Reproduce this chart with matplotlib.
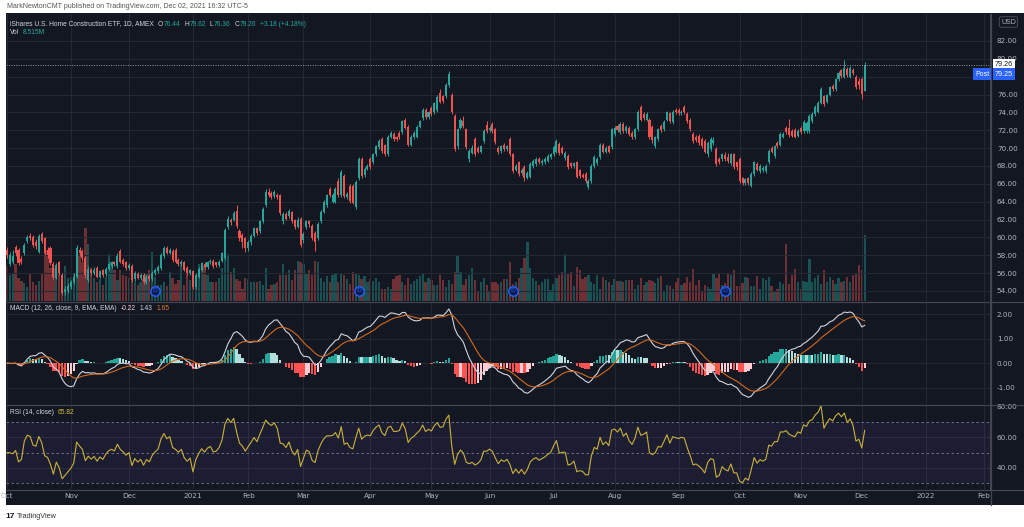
import matplotlib
matplotlib.use("Agg")
import matplotlib.pyplot as plt
import matplotlib.transforms as mtransforms
from matplotlib.patches import Rectangle
from matplotlib.lines import Line2D
import numpy as np
import pandas as pd

# ---- daily bars (ITB, Oct 2020 - Dec 2 2021) ----
opens = [
    58.6, 57.0, 57.2, 58.9, 58.6, 57.6, 58.3, 59.6, 60.2, 60.0, 59.5, 58.4, 60.4, 59.9, 58.6, 58.8, 57.0, 55.5, 57.2, 55.8, 53.9, 54.0,  # oct
    54.5, 55.0, 55.6, 58.6, 58.5, 57.7, 55.2, 56.4, 56.0, 56.6, 55.6, 56.3, 55.9, 56.5, 56.8, 57.2, 56.8, 58.5, 57.5, 57.2,  # nov
    56.6, 56.8, 55.3, 55.9, 55.4, 55.8, 55.0, 55.7, 55.3, 56.0, 56.2, 56.6, 57.9, 58.8, 58.3, 58.5, 58.6, 57.5, 57.0, 57.2, 56.6, 56.0,  # dec
    56.2, 54.5, 55.6, 56.4, 57.0, 56.7, 57.2, 57.4, 57.2, 56.9, 57.4, 57.7, 61.2, 62.0, 61.9, 63.0, 60.7, 60.3, 59.9,  # jan
    58.8, 59.5, 60.2, 61.0, 60.7, 61.8, 63.6, 65.1, 65.0, 64.6, 64.8, 64.7, 61.8, 62.6, 62.4, 62.8, 61.9, 61.2, 62.1,  # feb
    59.7, 61.2, 61.8, 61.3, 60.5, 59.9, 61.8, 62.9, 63.6, 65.4, 64.0, 64.0, 66.3, 64.7, 66.9, 64.5, 65.8, 65.8, 63.4, 66.6, 68.8, 67.0, 67.7,  # mar
    68.8, 68.4, 69.3, 70.1, 71.0, 70.3, 69.3, 71.3, 71.6, 71.2, 71.7, 71.8, 73.2, 72.4, 70.4, 71.2, 71.3, 72.4, 73.4, 74.3, 73.5,  # apr
    74.5, 74.0, 74.3, 76.2, 75.8, 75.8, 77.1, 76.0, 73.6, 70.2, 72.3, 73.0, 72.1, 68.8, 69.5, 71.0, 70.0, 69.6, 70.8, 72.6,  # may
    72.0, 72.7, 72.1, 70.0, 69.7, 70.4, 69.9, 71.0, 69.3, 67.6, 68.4, 67.2, 67.9, 66.7, 66.8, 68.0, 68.2, 68.8, 68.3, 68.4, 68.6, 69.0,  # jun
    69.3, 69.6, 70.5, 70.0, 68.9, 69.1, 68.3, 68.0, 68.4, 67.5, 67.0, 67.1, 65.7, 66.3, 68.0, 68.3, 69.0, 70.4, 69.6, 70.2, 70.1,  # jul
    71.6, 72.5, 71.8, 72.7, 71.9, 72.3, 71.7, 71.2, 72.1, 74.6, 73.8, 73.2, 73.2, 72.4, 70.2, 71.0, 72.5, 72.1, 73.2, 73.9, 72.9, 74.3,  # aug
    74.3, 73.9, 74.6, 73.8, 73.2, 71.6, 71.3, 71.4, 71.0, 70.8, 69.3, 69.9, 70.6, 69.9, 68.8, 68.8, 69.2, 69.0, 68.3, 69.3, 68.4,  # sep
    68.8, 66.6, 66.1, 66.6, 65.8, 67.1, 68.2, 67.4, 67.5, 67.4, 68.4, 70.0, 69.1, 70.6, 70.4, 71.3, 72.3, 72.2, 71.9, 72.0, 71.4,  # oct
    72.3, 71.9, 71.9, 71.9, 73.0, 73.8, 74.1, 75.1, 75.8, 75.2, 76.0, 77.0, 76.6, 77.7, 78.7, 78.0, 78.9, 78.0, 78.8, 78.0, 77.5,  # nov
    77.7, 76.44,  # dec
]
closes = [
    58.0, 58.0, 57.9, 58.2, 57.1, 57.3, 59.2, 60.0, 59.9, 59.1, 59.0, 60.2, 59.6, 58.2, 58.0, 57.1, 55.6, 56.9, 56.0, 53.8, 54.2, 54.6,
    55.0, 55.6, 58.8, 58.2, 57.7, 55.8, 56.5, 56.0, 56.4, 55.6, 56.2, 55.8, 56.5, 57.0, 57.2, 57.0, 57.9, 57.3, 57.0, 56.6,
    56.9, 55.2, 56.0, 55.5, 55.8, 55.0, 55.6, 55.3, 56.0, 56.4, 56.7, 58.0, 58.8, 58.3, 58.6, 57.5, 57.3, 57.0, 57.3, 56.4, 56.0, 56.3,
    54.5, 55.8, 56.5, 57.1, 56.7, 57.2, 57.4, 56.8, 56.9, 57.3, 58.2, 60.8, 62.1, 61.7, 62.7, 61.3, 59.9, 59.5, 58.8,
    59.5, 60.2, 61.0, 60.5, 61.8, 63.2, 65.1, 64.7, 64.5, 65.1, 64.5, 62.7, 62.6, 62.1, 63.0, 61.8, 61.2, 62.0, 59.1,
    60.4, 61.8, 61.5, 59.9, 59.5, 61.5, 62.9, 64.0, 64.7, 64.7, 64.8, 65.4, 64.7, 67.3, 64.6, 64.9, 64.1, 63.9, 66.2, 68.8, 66.9, 67.7, 68.0,
    67.9, 69.3, 70.2, 70.8, 69.7, 69.3, 71.3, 71.7, 71.0, 71.0, 71.2, 73.0, 72.3, 70.4, 71.3, 71.7, 72.4, 73.0, 74.3, 73.5, 74.0,
    73.8, 75.0, 75.7, 75.2, 75.3, 77.1, 78.3, 74.0, 69.9, 72.1, 73.2, 72.5, 70.1, 69.7, 70.0, 69.3, 69.6, 70.2, 71.9, 71.9,
    72.3, 71.9, 70.7, 69.6, 70.2, 69.9, 70.2, 69.3, 67.4, 68.0, 67.1, 67.6, 66.6, 67.2, 68.2, 68.6, 68.8, 68.4, 68.6, 68.8, 69.1, 69.3,
    70.1, 70.8, 69.4, 69.5, 69.5, 67.9, 68.0, 68.3, 66.8, 66.9, 66.8, 66.3, 66.3, 68.0, 69.0, 68.8, 70.4, 69.6, 70.0, 69.6, 72.1,
    72.3, 72.0, 72.7, 71.9, 72.4, 71.6, 71.2, 72.1, 74.1, 73.2, 73.4, 73.8, 71.2, 70.9, 71.2, 72.1, 72.0, 72.9, 74.0, 73.0, 74.1, 74.0,
    73.9, 74.1, 74.0, 73.0, 72.1, 70.8, 70.9, 70.6, 70.2, 69.6, 70.6, 71.0, 70.9, 68.2, 68.4, 69.3, 68.8, 68.6, 69.3, 67.9, 67.9,
    66.3, 66.1, 66.5, 66.1, 67.1, 68.4, 67.6, 68.0, 67.8, 68.0, 69.7, 69.6, 70.2, 70.2, 71.6, 71.6, 71.8, 71.5, 71.4, 71.3, 71.9,
    71.8, 72.9, 72.8, 73.6, 73.8, 74.6, 75.1, 76.6, 74.9, 75.9, 76.8, 76.6, 77.7, 78.4, 78.1, 79.0, 78.2, 79.0, 78.4, 76.8, 77.1,
    76.08, 79.26,
]
highs = [
    58.9, 58.4, 58.6, 59.2, 58.8, 57.9, 59.4, 60.3, 60.5, 60.3, 59.8, 60.4, 60.6, 60.0, 58.9, 59.0, 57.3, 57.1, 57.4, 56.0, 54.6, 54.9,
    55.2, 56.0, 59.2, 58.9, 58.7, 57.9, 56.8, 56.6, 56.7, 56.8, 56.4, 56.5, 56.7, 57.2, 57.4, 57.4, 58.2, 58.7, 57.7, 57.4,
    57.1, 57.0, 56.2, 56.1, 56.0, 56.0, 55.8, 55.9, 56.2, 56.6, 56.9, 58.2, 59.0, 59.0, 58.8, 58.7, 58.8, 57.7, 57.5, 57.4, 56.8, 56.5,
    56.4, 56.0, 56.7, 57.3, 57.2, 57.4, 57.6, 57.6, 57.3, 57.5, 58.4, 61.0, 62.4, 62.2, 63.0, 63.6, 60.9, 60.5, 60.1,
    59.7, 60.4, 61.2, 61.2, 62.0, 63.4, 65.4, 65.5, 65.2, 65.3, 65.0, 64.9, 62.8, 62.8, 63.2, 63.0, 62.1, 62.3, 62.3,
    60.6, 62.0, 62.0, 61.5, 60.7, 61.7, 63.1, 64.2, 64.9, 65.7, 65.0, 65.6, 66.6, 67.5, 67.1, 65.1, 66.0, 66.0, 66.4, 69.0, 69.0, 67.9, 68.2,
    69.0, 69.5, 70.4, 71.0, 71.2, 70.5, 71.5, 71.9, 71.8, 71.4, 71.9, 73.2, 73.4, 72.6, 71.5, 71.9, 72.6, 73.2, 74.5, 74.5, 74.2,
    74.7, 75.2, 76.0, 76.6, 76.0, 77.3, 78.6, 76.2, 73.8, 72.3, 73.4, 73.6, 72.3, 69.9, 70.3, 71.2, 70.2, 70.4, 72.1, 73.0,
    72.5, 72.9, 72.3, 70.2, 70.4, 70.6, 70.4, 71.2, 69.5, 68.2, 68.6, 67.8, 68.1, 67.4, 68.4, 68.8, 69.0, 69.0, 68.8, 69.0, 69.3, 69.5,
    70.3, 71.0, 70.7, 70.2, 69.7, 69.3, 68.5, 68.5, 68.6, 67.7, 67.2, 67.3, 66.5, 68.2, 69.2, 69.0, 70.6, 70.6, 70.2, 70.4, 72.3,
    72.5, 72.7, 72.9, 72.9, 72.6, 72.5, 71.9, 72.3, 74.3, 74.8, 74.0, 74.0, 73.4, 72.6, 71.4, 72.3, 72.7, 73.1, 74.2, 74.1, 74.3, 74.5,
    74.5, 74.3, 74.8, 74.0, 73.4, 71.8, 71.5, 71.6, 71.2, 71.0, 70.8, 71.2, 71.3, 70.1, 69.0, 69.5, 69.6, 69.4, 69.5, 69.5, 68.6,
    69.0, 66.8, 66.7, 66.8, 67.3, 68.6, 68.4, 68.2, 68.0, 68.2, 69.9, 70.2, 70.4, 70.8, 71.8, 71.8, 72.5, 73.3, 72.1, 72.2, 72.1,
    72.5, 73.1, 73.0, 73.8, 74.0, 74.8, 75.3, 76.8, 76.0, 76.1, 77.0, 77.2, 77.9, 78.6, 78.9, 79.9, 79.1, 79.2, 79.0, 78.2, 77.8,
    78.0, 79.62,
]
lows = [
    57.7, 56.8, 57.0, 57.9, 56.9, 57.0, 58.0, 59.4, 59.7, 58.9, 58.7, 58.2, 59.4, 58.0, 57.7, 56.9, 55.3, 55.3, 55.8, 53.6, 53.5, 53.8,
    54.2, 54.8, 55.4, 57.9, 57.4, 55.5, 55.0, 55.8, 55.8, 55.4, 55.4, 55.6, 55.7, 56.3, 56.6, 56.8, 56.6, 57.1, 56.8, 56.3,
    56.4, 55.0, 55.1, 55.3, 55.2, 54.8, 54.8, 55.1, 55.1, 55.8, 56.0, 56.4, 57.7, 58.1, 58.1, 57.3, 57.1, 56.8, 56.8, 56.2, 55.8, 55.8,
    54.2, 54.2, 55.4, 56.2, 56.5, 56.5, 57.0, 56.6, 56.7, 56.7, 57.2, 57.5, 60.9, 61.4, 61.8, 61.1, 59.6, 58.8, 58.4,
    58.5, 59.2, 60.0, 60.3, 60.5, 61.6, 63.4, 64.5, 64.3, 64.4, 64.3, 62.5, 61.5, 61.9, 62.2, 61.6, 60.9, 61.0, 58.9,
    59.4, 60.9, 61.2, 59.7, 58.5, 59.7, 61.6, 62.7, 63.4, 64.5, 63.8, 63.8, 64.5, 64.5, 64.4, 64.3, 63.9, 63.7, 63.2, 66.4, 66.7, 66.8, 67.5,
    67.7, 68.2, 69.1, 69.9, 69.5, 69.1, 69.1, 71.1, 70.8, 70.8, 71.0, 71.6, 72.1, 70.2, 70.2, 71.0, 71.1, 72.2, 73.2, 73.3, 73.3,
    73.6, 73.8, 74.1, 75.0, 75.1, 75.6, 76.9, 73.8, 69.7, 69.9, 72.1, 72.3, 69.9, 68.4, 69.3, 69.1, 69.4, 69.4, 70.6, 71.7,
    71.8, 71.7, 70.5, 69.3, 69.5, 69.7, 69.7, 69.1, 67.2, 67.4, 66.9, 67.0, 66.3, 66.5, 66.6, 67.8, 68.0, 68.2, 68.1, 68.2, 68.4, 68.8,
    69.1, 69.4, 69.2, 69.3, 68.7, 67.7, 67.8, 67.8, 66.6, 66.7, 66.6, 66.1, 65.4, 66.1, 67.8, 68.1, 68.8, 69.4, 69.4, 69.4, 69.9,
    71.4, 71.8, 71.6, 71.7, 71.7, 71.4, 71.0, 71.0, 71.9, 73.0, 73.2, 73.0, 71.0, 70.6, 70.0, 70.8, 71.8, 71.9, 73.0, 72.8, 72.7, 73.8,
    73.7, 73.7, 73.8, 72.8, 71.9, 70.6, 70.7, 70.4, 70.0, 69.4, 69.0, 69.7, 70.4, 68.0, 68.2, 68.6, 68.6, 68.3, 68.1, 67.7, 67.6,
    66.1, 65.9, 65.9, 65.9, 65.7, 66.9, 67.4, 67.2, 67.3, 67.2, 68.2, 69.4, 68.9, 70.0, 70.2, 71.1, 71.6, 71.3, 71.2, 71.1, 71.2,
    71.6, 71.7, 71.7, 71.7, 72.8, 73.6, 73.9, 74.9, 74.7, 75.0, 75.8, 76.4, 76.4, 77.5, 77.9, 77.8, 78.0, 77.8, 78.2, 76.6, 76.6,
    75.5, 76.36,
]
# volume in millions
volumes = [
    4.5, 3.3, 3.6, 4.8, 3.0, 2.6, 2.3, 1.8, 3.5, 2.5, 2.0, 2.6, 3.5, 6.5, 6.6, 4.3, 4.2, 3.6, 4.6, 3.0, 4.5, 3.0,
    3.1, 3.5, 6.3, 6.0, 5.0, 9.4, 7.4, 4.2, 3.0, 2.4, 2.8, 2.0, 3.1, 6.0, 5.0, 4.0, 2.7, 4.0, 3.4, 3.2,
    3.0, 2.7, 2.4, 2.1, 2.5, 2.9, 3.5, 4.0, 6.3, 3.1, 2.1, 2.0, 2.5, 1.9, 3.7, 3.0, 2.2, 2.7, 5.0, 2.0, 3.5, 2.7,
    3.3, 2.7, 4.8, 4.3, 4.5, 3.3, 2.5, 2.5, 2.5, 3.0, 4.2, 5.9, 6.0, 3.7, 4.3, 2.8, 2.6, 1.6, 3.0,
    2.8, 2.5, 2.5, 2.4, 2.6, 2.0, 4.2, 1.6, 2.0, 2.2, 2.4, 3.3, 4.8, 3.3, 4.0, 2.7, 4.0, 5.2, 5.0,
    4.8, 3.5, 4.0, 3.3, 5.2, 5.0, 3.0, 2.5, 3.2, 2.5, 3.4, 3.6, 2.5, 3.6, 3.3, 2.8, 2.2, 3.8, 3.6, 3.3, 2.8, 3.2, 2.5,
    2.9, 2.6, 3.0, 2.5, 1.6, 1.6, 1.8, 1.6, 2.9, 3.2, 3.4, 2.5, 2.0, 3.0, 2.2, 2.6, 2.8, 3.2, 3.5, 2.4, 3.0,
    2.7, 2.0, 2.0, 3.3, 2.7, 1.8, 2.7, 2.2, 3.8, 5.9, 3.8, 2.0, 2.9, 3.3, 4.2, 2.7, 1.3, 2.5, 3.0, 2.0,
    1.3, 2.4, 2.4, 2.2, 2.4, 2.9, 2.9, 5.0, 2.2, 2.4, 3.0, 4.2, 5.5, 7.6, 4.2, 3.0, 2.6, 2.0, 2.4, 2.9, 2.9, 1.4,
    2.2, 3.0, 3.3, 3.8, 6.1, 3.6, 3.8, 1.9, 4.4, 4.0, 2.9, 3.1, 3.3, 2.5, 2.2, 3.3, 1.6, 3.1, 2.7, 2.5, 2.0,
    2.8, 2.6, 2.6, 2.5, 2.7, 2.75, 2.75, 1.6, 2.1, 3.0, 2.1, 2.5, 2.75, 2.6, 2.3, 3.0, 3.2, 1.2, 2.1, 1.9, 1.6, 2.5,
    3.0, 2.1, 2.3, 3.1, 2.5, 4.1, 2.1, 2.75, 1.2, 2.1, 1.8, 1.6, 3.6, 3.0, 3.6, 2.1, 2.3, 3.6, 3.4, 4.0, 1.9,
    1.9, 2.3, 3.1, 3.0, 1.9, 1.9, 3.2, 1.6, 3.0, 2.75, 3.1, 1.9, 1.3, 1.6, 2.5, 2.2, 7.4, 2.2, 3.3, 4.1, 2.5,
    1.6, 2.6, 2.4, 5.4, 2.5, 3.0, 3.3, 2.2, 4.0, 2.4, 3.1, 2.7, 2.2, 3.0, 2.4, 2.6, 3.1, 2.5, 3.3, 3.6, 4.7,
    4.0, 8.515,
]
dividend_bars = [51, 121, 174, 247]
holidays = ['2020-11-26', '2020-12-25', '2021-01-01', '2021-01-18', '2021-02-15', '2021-04-02',
            '2021-05-31', '2021-07-05', '2021-09-06', '2021-11-25', '2021-12-24', '2022-01-17']

n = len(closes)
assert len(opens) == n and len(highs) == n and len(lows) == n and len(volumes) == n, \
    (len(opens), len(closes), len(highs), len(lows), len(volumes))

BG = '#131722'
GRID = '#242832'
SEP = '#434651'
TXT = '#b2b5be'
UP = '#26a69a'
DN = '#ef5350'
W, H = 1024, 527
FAM = ['Liberation Sans', 'DejaVu Sans']

o = np.array(opens); c = np.array(closes)
hi = np.array(highs); lo = np.array(lows)
x = np.arange(n)
cols = np.where(c >= o, UP, DN)

# indicators
cs = pd.Series(closes)
macd = cs.ewm(span=12, adjust=False).mean() - cs.ewm(span=26, adjust=False).mean()
signal = macd.ewm(span=9, adjust=False).mean()
hist = macd - signal
prev = hist.shift(1).fillna(0)
hcols = []
for h, p in zip(hist, prev):
    if h >= 0:
        hcols.append('#26a69a' if h > p else '#b2dfdb')
    else:
        hcols.append('#ffcdd2' if h > p else '#ff5252')

# RSI (Wilder), averages seeded with the mean move of the first 14 bars
chg = np.diff(c, prepend=c[0])
seed = np.abs(chg[1:15]).mean() / 2
avg_g, avg_l = seed, seed
rsi = []
for ch in chg:
    avg_g = (avg_g * 13 + max(ch, 0)) / 14
    avg_l = (avg_l * 13 + max(-ch, 0)) / 14
    rsi.append(100 - 100 / (1 + avg_g / avg_l))

# dates for the time axis (incl. empty space to the right)
days = pd.bdate_range('2020-10-01', '2022-02-28')
days = days[~days.isin(pd.to_datetime(holidays))]
XMIN, XMAX = -0.3, 338.1
tick_pos, tick_lab = [], []
for i in range(len(days)):
    if i > XMAX:
        break
    if i == 0 or days[i].month != days[i - 1].month:
        tick_pos.append(i)
        tick_lab.append(str(days[i].year) if days[i].month == 1 else days[i].strftime('%b'))


def box(l, t, r, b):
    return [l / W, 1 - b / H, (r - l) / W, (b - t) / H]


fig = plt.figure(figsize=(W / 100, H / 100), dpi=100)
fig.patch.set_facecolor('white')
fig.patches.append(Rectangle((6 / W, 1 - 505 / H), 1 - 6 / W, (505 - 13) / H,
                             transform=fig.transFigure, facecolor=BG, zorder=-5))

ax_p = fig.add_axes(box(6, 14, 990, 301))
ax_m = fig.add_axes(box(6, 302, 990, 404))
ax_r = fig.add_axes(box(6, 405, 990, 489))

# volume underneath price
ax_v = ax_p.twinx()
ax_v.set_xlim(XMIN, XMAX)
ax_v.set_ylim(0, 37.0)
ax_v.set_yticks([])
for s in ax_v.spines.values():
    s.set_visible(False)
ax_v.set_facecolor(BG)
ax_v.bar(x, volumes, width=0.78, color=cols, alpha=0.42, zorder=1)
ax_v.set_zorder(1)
ax_p.set_zorder(2)
ax_p.patch.set_visible(False)

for ax in (ax_p, ax_m, ax_r):
    if ax is not ax_p:
        ax.set_facecolor(BG)
    ax.set_xlim(XMIN, XMAX)
    for s in ax.spines.values():
        s.set_visible(False)
    ax.spines['right'].set_visible(True)
    ax.spines['right'].set_color(SEP)
    ax.yaxis.tick_right()
    ax.tick_params(axis='y', length=0, pad=5, labelsize=5.2, labelcolor=TXT)
    ax.tick_params(axis='x', length=0)
    ax.set_xticks(tick_pos)
    ax.set_xticklabels([])
    for tp in tick_pos:
        ax.axvline(tp, color=GRID, lw=0.8, zorder=0)
for tp in tick_pos:
    ax_v.axvline(tp, color=GRID, lw=0.8, zorder=0)

# price
ax_p.set_ylim(52.88, 85.02)
pt = np.arange(54, 83, 2)
ax_p.set_yticks(pt)
ax_p.set_yticklabels(['' if v == 78 else f'{v:.2f}' for v in pt])
for v in pt:
    ax_p.axhline(v, color=GRID, lw=0.8, zorder=0)
ax_p.vlines(x, lo, hi, colors=cols, lw=0.7, zorder=3)
ax_p.bar(x, np.maximum(np.abs(c - o), 0.06), bottom=np.minimum(o, c), width=0.7,
         color=cols, zorder=4)
ax_p.axhline(closes[-1], color='#9598a1', lw=0.7, ls=(0, (1, 1.5)), zorder=5)
tr = mtransforms.blended_transform_factory(ax_p.transData, ax_p.transAxes)
for b in dividend_bars:
    ax_p.scatter([b], [0.035], s=46, transform=tr, facecolor='#0b1c4a',
                 edgecolor='#2962ff', lw=1.0, zorder=6)
    ax_p.text(b, 0.035, 'D', transform=tr, ha='center', va='center', fontsize=4.5,
              color='#2962ff', zorder=7)

# MACD
ax_m.set_ylim(-1.65, 2.49)
mt = [-1, 0, 1, 2]
ax_m.set_yticks(mt)
ax_m.set_yticklabels(['-1.00', '0.00', '1.00', '2.00'])
for v in mt:
    ax_m.axhline(v, color=GRID, lw=0.8, zorder=0)
ax_m.bar(x, hist, width=0.8, color=hcols, zorder=2)
ax_m.plot(x, macd, color='#d1d4dc', lw=0.8, zorder=3)
ax_m.plot(x, signal, color='#d2691e', lw=0.8, zorder=4)

# RSI
ax_r.set_ylim(26.2, 81.3)
ax_r.set_yticks([40, 60, 80])
ax_r.set_yticklabels(['40.00', '60.00', '80.00'])
for v in (40, 60):
    ax_r.axhline(v, color=GRID, lw=0.8, zorder=0)
ax_r.axhspan(30, 70, color='#7e57c2', alpha=0.1, lw=0, zorder=1)
for v in (30, 50, 70):
    ax_r.axhline(v, color='#787b86', lw=0.6, ls=(0, (3, 3)), zorder=2)
ax_r.plot(x, rsi, color='#c9b13c', lw=0.8, zorder=3)
ax_r.set_xticklabels(tick_lab)
ax_r.tick_params(axis='x', labelsize=5.2, labelcolor=TXT, pad=3)

# pane separators and price-scale border, across the whole dark area
for yy in (301.5, 404.5, 489.5):
    fig.lines.append(Line2D([6 / W, 1], [1 - yy / H] * 2, transform=fig.transFigure,
                            color=SEP, lw=0.9))
fig.lines.append(Line2D([990.5 / W] * 2, [1 - 505 / H, 1 - 14 / H], transform=fig.transFigure,
                        color=SEP, lw=0.9))

renderer = fig.canvas.get_renderer()


def ftext(px, py, s, color=TXT, size=5.0, **kw):
    return fig.text(px / W, 1 - py / H, s, color=color, fontsize=size, va='center',
                    family=FAM, **kw)


def text_row(px, py, parts, size=5.0):
    # parts: (string, colour, gap_after_px)
    for s, col, gap in parts:
        t = ftext(px, py, s, color=col, size=size)
        px += t.get_window_extent(renderer).width + gap


ftext(7, 7, 'MarkNewtonCMT published on TradingView.com, Dec 02, 2021 16:32 UTC-5', color='#555555')
text_row(10, 24, [('iShares U.S. Home Construction ETF, 1D, AMEX', '#d1d4dc', 4),
                  ('O', '#d1d4dc', 0.5), ('76.44', UP, 4),
                  ('H', '#d1d4dc', 0.5), ('79.62', UP, 4),
                  ('L', '#d1d4dc', 0.5), ('76.36', UP, 4),
                  ('C', '#d1d4dc', 0.5), ('79.26', UP, 4),
                  ('+3.18 (+4.18%)', UP, 0)], size=4.8)
text_row(10, 33, [('Vol', '#d1d4dc', 4), ('8.515M', UP, 0)], size=4.8)
text_row(10, 308, [('MACD (12, 26, close, 9, EMA, EMA)', '#d1d4dc', 4), ('-0.22', '#ffcdd2', 4),
                   ('1.43', '#d1d4dc', 4), ('1.65', '#e07a2a', 0)], size=4.8)
text_row(10, 413, [('RSI (14, close)', '#d1d4dc', 4), ('65.82', '#d4bd3f', 0)], size=4.8)

ftext(1001, 22, 'USD', size=5, bbox=dict(boxstyle='round,pad=0.25', fc='none', ec='#50535e', lw=0.6))
ftext(995, 65, '79.26', color='#131722', size=5.2,
      bbox=dict(boxstyle='square,pad=0.3', fc='white', ec='none'))
ftext(975, 74, 'Post', color='white', bbox=dict(boxstyle='square,pad=0.3', fc='#2962ff', ec='none'))
ftext(995, 74, '79.25', color='white', size=5.2,
      bbox=dict(boxstyle='square,pad=0.3', fc='#2962ff', ec='none'))

ftext(5, 517, '17', color='#131722', size=6, weight='bold')
ftext(17, 517, 'TradingView', color='#333333', size=5.2)

fig.savefig('out.png', dpi=100, facecolor=fig.get_facecolor())
